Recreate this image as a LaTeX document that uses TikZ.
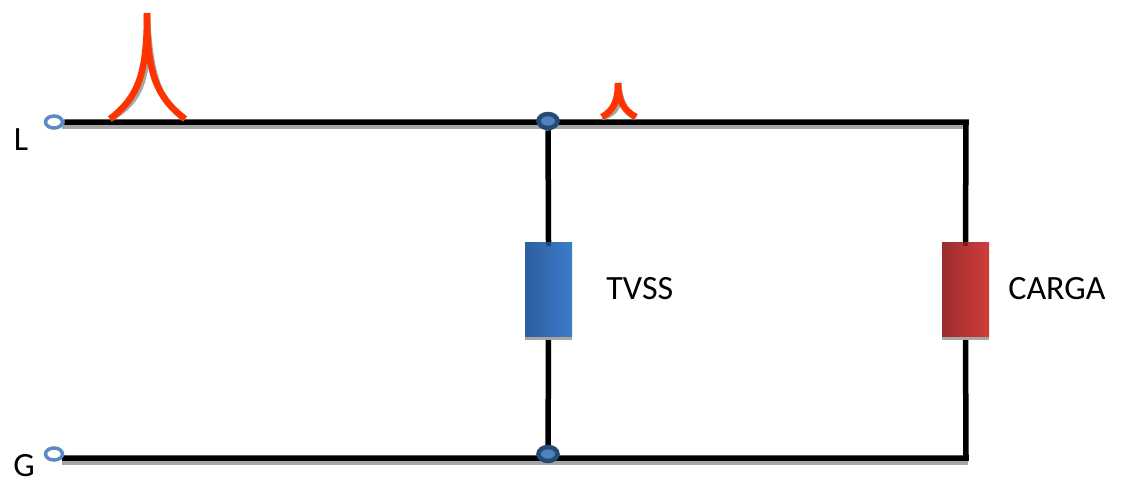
\documentclass[tikz,border=0pt]{standalone}
\usepackage{fontspec}
\setmainfont{Carlito}
\usepackage{xcolor}
\usetikzlibrary{positioning,shadows,shapes.geometric,backgrounds}
\definecolor{spikered}{HTML}{FF3300}
\definecolor{shadowgray}{HTML}{A6A6A6}
\definecolor{termblue}{HTML}{5B8BC5}
\definecolor{joinedge}{HTML}{254A75}
\definecolor{joinfill}{HTML}{4F81BD}
\definecolor{tvssleft}{HTML}{2D5E9E}
\definecolor{tvssright}{HTML}{3B7CCB}
\definecolor{cargaleft}{HTML}{9C2C2C}
\definecolor{cargaright}{HTML}{CF3D3B}

\begin{document}
\begin{tikzpicture}[
x=1pt,y=-1pt,
wire/.style={line width=5.5pt, draw=black},
wireshadow/.style={line width=5pt, draw=shadowgray},
spike/.style={line width=6.5pt, draw=spikered},
spikeshadow/.style={line width=6pt, draw=shadowgray},
terminal/.style={ellipse, draw=termblue, line width=3.5pt, fill=white, minimum width=17pt, minimum height=12pt, inner sep=0pt},
junction/.style={ellipse, draw=joinedge, line width=4.5pt, fill=joinfill, minimum width=19pt, minimum height=14pt, inner sep=0pt},
loadbox/.style={rectangle, minimum width=47pt, minimum height=94pt, inner sep=0pt, drop shadow={shadow xshift=0pt, shadow yshift=-4pt, fill=shadowgray, opacity=1}},
label/.style={font=\fontsize{34}{34}\selectfont, inner sep=0pt},
]
\useasboundingbox (0,0) rectangle (1124,483);

%Nodes
\coordinate (TopStart) at (62,122);
\coordinate (BotStart) at (62,458);
\coordinate (TopCorner) at (966,122);
\coordinate (BotCorner) at (966,458);
\coordinate (BotJoint) at (548,458);
\coordinate (BigLeft) at (110,119);
\coordinate (BigTip) at (147,13);
\coordinate (BigRight) at (185,119);
\coordinate (SmallLeft) at (602,117);
\coordinate (SmallTip) at (618,83);
\coordinate (SmallRight) at (636,117);
\node[terminal](Lterm) at (54,122){};
\node[terminal](Gterm) at (54,454){};
\node[junction](TopJoin) at (548,121){};
\node[junction](BotJoin) at (548,454){};
\node[loadbox, left color=tvssleft, right color=tvssright](Tvss) at (548.5,289){};
\node[loadbox, left color=cargaleft, right color=cargaright](Carga) at (965.5,289){};
\node[label](TvssText)[right=34pt of Tvss]{TVSS};
\node[label](CargaText)[right=19pt of Carga]{CARGA};
\node[label](Ltext) at (21,140){L};
\node[label](Gtext) at (24,466){G};

%Lines
\begin{scope}[on background layer]
\draw[wireshadow] ([yshift=-4pt]TopStart) -- ([yshift=-4pt]TopCorner);
\draw[wireshadow] ([yshift=-4pt]BotStart) -- ([yshift=-4pt,xshift=2pt]BotCorner);
\draw[wire] (Lterm) -- (TopCorner) -- (Carga.north);
\draw[wire] (Carga.south) -- (BotCorner) -- (BotStart);
\draw[wire] (TopJoin) -- (Tvss.north);
\draw[wire] (Tvss.south) -- (BotJoint);
\end{scope}
\draw[wire, opacity=.35] (Tvss.north) -- ++(0,4);
\draw[wire, opacity=.35] (Carga.north) -- ++(0,4);

%Spikes
\begin{scope}[shift={(3,4)}]
\draw[spikeshadow] (BigLeft) .. controls (138,97) and (147,75) .. (BigTip);
\draw[spikeshadow] (BigRight) .. controls (157,97) and (147,75) .. (BigTip);
\draw[spikeshadow] (SmallLeft) .. controls (614,110) and (618,100) .. (SmallTip);
\draw[spikeshadow] (SmallRight) .. controls (623,110) and (618,100) .. (SmallTip);
\end{scope}
\draw[spike] (BigLeft) .. controls (138,97) and (147,75) .. (BigTip);
\draw[spike] (BigRight) .. controls (157,97) and (147,75) .. (BigTip);
\draw[spike] (SmallLeft) .. controls (614,110) and (618,100) .. (SmallTip);
\draw[spike] (SmallRight) .. controls (623,110) and (618,100) .. (SmallTip);
\end{tikzpicture}
\end{document}
